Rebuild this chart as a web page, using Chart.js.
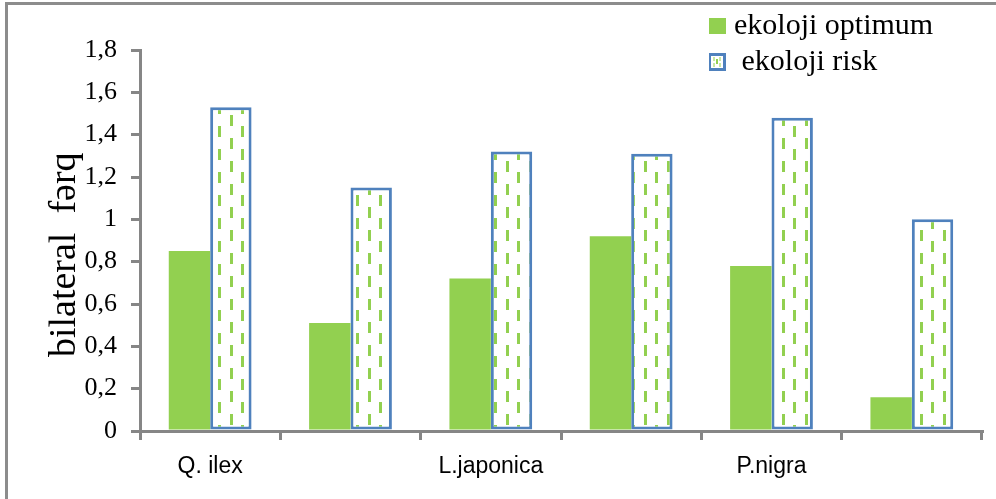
<!DOCTYPE html>
<html>
<head>
<meta charset="utf-8">
<script src="https://cdn.jsdelivr.net/npm/chart.js@4/dist/chart.umd.min.js"></script>
<style>
html,body{margin:0;padding:0;background:#fff;}
#wrap{width:996px;height:499px;}
</style>
</head>
<body>
<div id="wrap"><canvas id="c" width="996" height="499"></canvas></div>
<script>
// ---- data ----
const categories = ['Q. ilex', '', 'L.japonica', '', 'P.nigra', ''];
const optimumValues = [0.85, 0.51, 0.72, 0.92, 0.78, 0.16];
const riskValues = [1.53, 1.15, 1.32, 1.31, 1.48, 1.00];
const seriesNames = ['ekoloji optimum', ' ekoloji risk'];
const yMin = 0, yMax = 1.8, yStep = 0.2;
const yTitle = 'bilateral  fərq';

// ---- styles ----
const GREEN = '#92D050';
const BLUE = '#4F81BD';
const AXIS = '#868686';
const SERIF = '"Liberation Serif", "Times New Roman", serif';
const SANS = '"Liberation Sans", Arial, sans-serif';

const canvas = document.getElementById('c');
const mainCtx = canvas.getContext('2d');

function makePattern() {
  const c = document.createElement('canvas');
  c.width = 23; c.height = 23;
  const g = c.getContext('2d');
  g.fillStyle = '#fff'; g.fillRect(0, 0, 23, 23);
  g.fillStyle = GREEN;
  g.fillRect(0, 0, 3, 11);
  g.fillRect(11, 11, 3, 11);
  return mainCtx.createPattern(c, 'repeat');
}
const riskPattern = makePattern();

function iconOptimum() {
  const c = document.createElement('canvas');
  c.width = 18; c.height = 16;
  const g = c.getContext('2d');
  g.fillStyle = GREEN; g.fillRect(0, 0, 18, 16);
  return c;
}
function iconRisk() {
  const c = document.createElement('canvas');
  c.width = 18; c.height = 18;
  const g = c.getContext('2d');
  g.fillStyle = '#fff'; g.fillRect(0, 0, 18, 18);
  g.fillStyle = '#c9e8a5';
  g.fillRect(5, 4, 2, 4); g.fillRect(11, 4, 2, 4);
  g.fillRect(5, 10, 2, 4); g.fillRect(11, 10, 2, 4);
  g.fillStyle = GREEN;
  g.fillRect(8, 6, 2, 5);
  g.strokeStyle = BLUE; g.lineWidth = 3;
  g.strokeRect(1.5, 1.5, 15, 15);
  return c;
}
const legendIcons = [iconOptimum(), iconRisk()];

const framePlugin = {
  id: 'frame',
  beforeDraw(chart) {
    const ctx = chart.ctx;
    ctx.save();
    ctx.fillStyle = '#fff';
    ctx.fillRect(0, 0, chart.width, chart.height);
    ctx.strokeStyle = '#8c8c8c';
    ctx.lineWidth = 3;
    ctx.beginPath();
    ctx.moveTo(6.5, chart.height);
    ctx.lineTo(6.5, 3.5);
    ctx.lineTo(chart.width, 3.5);
    ctx.stroke();
    ctx.restore();
  }
};

const legendPlacer = {
  id: 'legendPlacer',
  afterLayout(chart) {
    const lg = chart.legend;
    if (!lg) return;
    const w = lg.width;
    lg.left = 709;
    lg.right = 709 + w;
    lg.top = 5;
  }
};

new Chart(canvas, {
  type: 'bar',
  data: {
    labels: categories,
    datasets: [
      {
        label: seriesNames[0],
        data: optimumValues,
        backgroundColor: GREEN,
        borderWidth: 0
      },
      {
        label: seriesNames[1],
        data: riskValues,
        backgroundColor: riskPattern,
        borderColor: BLUE,
        borderWidth: 3,
        borderSkipped: false
      }
    ]
  },
  options: {
    responsive: false,
    animation: false,
    devicePixelRatio: 1,
    categoryPercentage: 0.59,
    barPercentage: 1.0,
    layout: { padding: { left: 0, right: 14, top: 50, bottom: 0 } },
    plugins: {
      tooltip: { enabled: false },
      legend: {
        position: 'chartArea',
        align: 'start',
        labels: {
          usePointStyle: true,
          pointStyleWidth: 4,
          boxHeight: 18,
          padding: 6,
          color: '#000',
          font: { family: SERIF, size: 30 },
          generateLabels(chart) {
            const items = Chart.defaults.plugins.legend.labels.generateLabels(chart);
            items.forEach((it, i) => { it.pointStyle = legendIcons[i]; it.fontColor = '#000'; });
            return items;
          }
        }
      }
    },
    scales: {
      x: {
        z: 1,
        offset: true,
        grid: { offset: true, drawOnChartArea: false, drawTicks: true, tickLength: 9, color: AXIS, lineWidth: 3 },
        border: { display: true, color: AXIS, width: 3 },
        ticks: { color: '#000', font: { family: SANS, size: 23 }, padding: 13, maxRotation: 0, autoSkip: false },
        afterFit(s) { s.height = 68; }
      },
      y: {
        z: 1,
        min: yMin,
        max: yMax,
        ticks: {
          stepSize: yStep,
          color: '#000',
          font: { family: SERIF, size: 26 },
          padding: 14,
          callback: v => String(Math.round(v * 10) / 10).replace('.', ',')
        },
        grid: { drawOnChartArea: false, drawTicks: true, tickLength: 9, color: AXIS, lineWidth: 3 },
        border: { display: true, color: AXIS, width: 3 },
        title: {
          display: true,
          text: yTitle + '   ',
          color: '#000',
          font: { family: SERIF, size: 38, weight: 'normal' },
          padding: { top: 42, bottom: 0 }
        },
        afterFit(s) { s.width = 140; }
      }
    }
  },
  plugins: [framePlugin, legendPlacer]
});
</script>
</body>
</html>
